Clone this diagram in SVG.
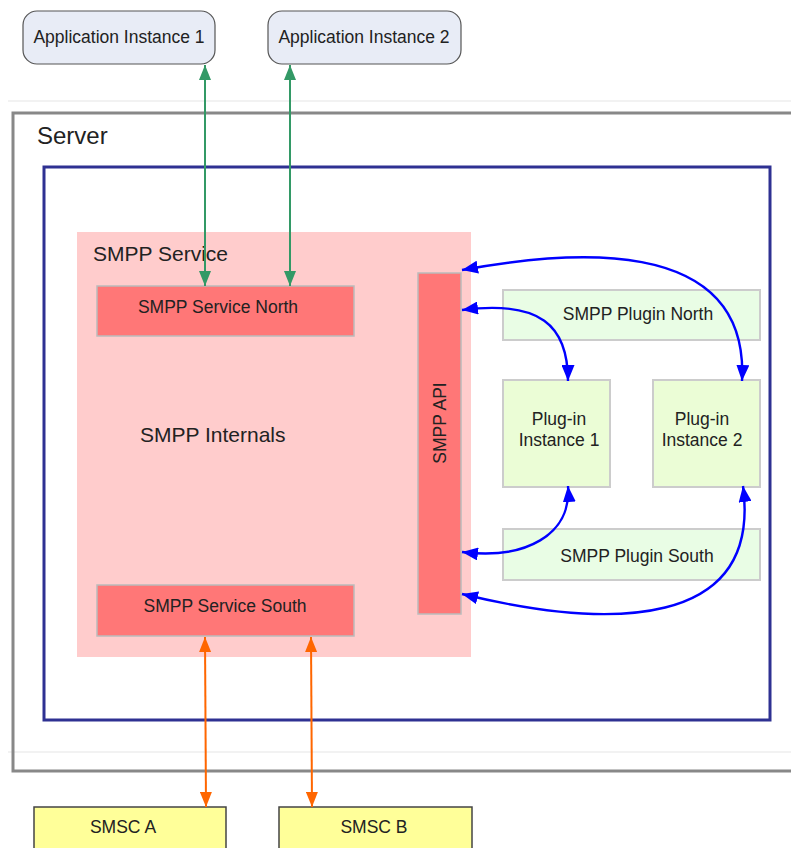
<svg xmlns="http://www.w3.org/2000/svg" width="791" height="848" viewBox="0 0 791 848">
  <defs>
    <style>
      text { font-family: "Liberation Sans", Arial, sans-serif; fill: #222; }
      .lbl { font-size: 17.5px; text-anchor: middle; }
      .app { fill: #e8ecf6; stroke: #555; stroke-width: 1.2; }
      .svc { fill: #ff7777; stroke: #bbbbbb; stroke-width: 1.5; }
      .plg { fill: #e9fde5; stroke: #cccccc; stroke-width: 2; }
      .ins { fill: #ebfdd6; stroke: #cccccc; stroke-width: 2; }
      .smsc { fill: #ffff99; stroke: #444; stroke-width: 1.5; }
      .green { stroke: #339966; stroke-width: 2; fill: none; }
      .orange { stroke: #ff6600; stroke-width: 2; fill: none; }
      .blue { stroke: #0000ff; stroke-width: 2.4; fill: none; }
    </style>
    <marker id="ag" viewBox="0 0 15 12" refX="15" refY="6" markerWidth="15" markerHeight="12" orient="auto-start-reverse" markerUnits="userSpaceOnUse">
      <path d="M0,0 L15,6 L0,12 z" fill="#339966"/>
    </marker>
    <marker id="ao" viewBox="0 0 15 12" refX="15" refY="6" markerWidth="15" markerHeight="12" orient="auto-start-reverse" markerUnits="userSpaceOnUse">
      <path d="M0,0 L15,6 L0,12 z" fill="#ff6600"/>
    </marker>
    <marker id="ab" viewBox="0 0 16 13" refX="16" refY="6.5" markerWidth="16" markerHeight="13" orient="auto-start-reverse" markerUnits="userSpaceOnUse">
      <path d="M0,0 L16,6.5 L0,13 z" fill="#0000ff"/>
    </marker>
  </defs>

  <rect width="791" height="848" fill="#ffffff"/>

  <!-- server frame -->
  <g id="server">
    <line x1="8" y1="101" x2="791" y2="101" stroke="#eeeeee" stroke-width="1.5"/>
    <line x1="8" y1="752" x2="791" y2="752" stroke="#eeeeee" stroke-width="1.5"/>
    <path d="M791,113 L13,113 L13,771 L791,771" fill="none" stroke="#888" stroke-width="3"/>
    <text x="37" y="144" font-size="24">Server</text>
  </g>

  <!-- inner host boundary -->
  <g id="host">
    <rect x="44" y="167" width="726" height="553" fill="none" stroke="#2e3192" stroke-width="3"/>
  </g>

  <g id="smpp-service">
    <rect x="77" y="232" width="394" height="425" fill="#ffcccc"/>
    <text x="93" y="261" font-size="21">SMPP Service</text>
    <text x="140" y="442" font-size="21">SMPP Internals</text>
  </g>

  <g id="service-north">
    <rect class="svc" x="97" y="286" width="257" height="50"/>
    <text class="lbl" x="218" y="313">SMPP Service North</text>
  </g>

  <g id="service-south">
    <rect class="svc" x="97" y="585" width="257" height="51"/>
    <text class="lbl" x="225" y="612">SMPP Service South</text>
  </g>

  <g id="smpp-api">
    <rect class="svc" x="418" y="273" width="43" height="341"/>
    <text class="lbl" transform="translate(446,423) rotate(-90)">SMPP API</text>
  </g>

  <g id="plugin-north">
    <rect class="plg" x="503" y="290" width="257" height="50"/>
    <text class="lbl" x="638" y="320">SMPP Plugin North</text>
  </g>

  <g id="plugin-instance-1">
    <rect class="ins" x="503" y="380" width="107" height="107"/>
    <text class="lbl" x="559" y="425">Plug-in</text>
    <text class="lbl" x="559" y="446">Instance 1</text>
  </g>

  <g id="plugin-instance-2">
    <rect class="ins" x="653" y="380" width="107" height="107"/>
    <text class="lbl" x="702" y="425">Plug-in</text>
    <text class="lbl" x="702" y="446">Instance 2</text>
  </g>

  <g id="plugin-south">
    <rect class="plg" x="503" y="529" width="257" height="51"/>
    <text class="lbl" x="637" y="562">SMPP Plugin South</text>
  </g>

  <g id="app-1">
    <rect class="app" x="23" y="11" width="192" height="53" rx="14"/>
    <text class="lbl" x="119" y="43">Application Instance 1</text>
  </g>

  <g id="app-2">
    <rect class="app" x="268" y="11" width="193" height="53" rx="14"/>
    <text class="lbl" x="364" y="43">Application Instance 2</text>
  </g>

  <g id="smsc-a">
    <rect class="smsc" x="34" y="807" width="192" height="50"/>
    <text class="lbl" x="123" y="833">SMSC A</text>
  </g>

  <g id="smsc-b">
    <rect class="smsc" x="279" y="807" width="193" height="50"/>
    <text class="lbl" x="374" y="833">SMSC B</text>
  </g>

  <!-- connectors -->
  <g id="connectors">
    <line class="green" x1="205" y1="65" x2="205" y2="286" marker-start="url(#ag)" marker-end="url(#ag)"/>
    <line class="green" x1="290" y1="65" x2="290" y2="286" marker-start="url(#ag)" marker-end="url(#ag)"/>
    <line class="orange" x1="205" y1="637" x2="206" y2="807" marker-start="url(#ao)" marker-end="url(#ao)"/>
    <line class="orange" x1="311" y1="637" x2="312" y2="807" marker-start="url(#ao)" marker-end="url(#ao)"/>
    <path class="blue" d="M462,270 C560,252 750,230 742,381" marker-start="url(#ab)" marker-end="url(#ab)"/>
    <path class="blue" d="M462,310 C540,300 568,325 568,381" marker-start="url(#ab)" marker-end="url(#ab)"/>
    <path class="blue" d="M568,486 C572,535 525,560 462,552" marker-start="url(#ab)" marker-end="url(#ab)"/>
    <path class="blue" d="M743,486 C762,630 610,630 462,594" marker-start="url(#ab)" marker-end="url(#ab)"/>
  </g>
</svg>
